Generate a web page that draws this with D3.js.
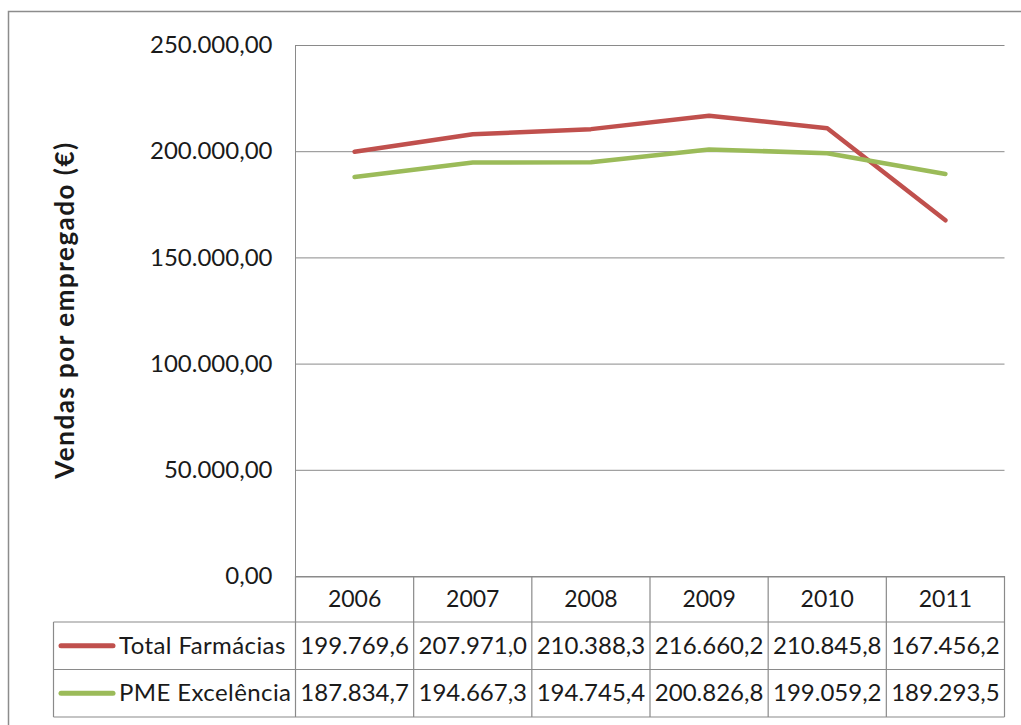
<!DOCTYPE html>
<html>
<head>
<meta charset="utf-8">
<script src="https://cdn.jsdelivr.net/npm/d3@7"></script>
<style>
  html, body { margin: 0; padding: 0; background: #fff; }
  svg { display: block; }
  text { font-family: Lato, "Open Sans", sans-serif; fill: #1a1a1a; }
</style>
</head>
<body>
<svg id="chart" width="1021" height="725"></svg>
<script>
// Sales per employee (€), 2006–2011
const years = ["2006", "2007", "2008", "2009", "2010", "2011"];
const seriesNames = ["Total Farmácias", "PME Excelência"];
const totalFarmacias = [199769.6, 207971.0, 210388.3, 216660.2, 210845.8, 167456.2];
const pmeExcelencia = [187834.7, 194667.3, 194745.4, 200826.8, 199059.2, 189293.5];
const seriesColors = ["#C0504D", "#9BBB59"];
const yTicks = [0, 50000, 100000, 150000, 200000, 250000];
const yTitle = "Vendas por empregado (€)";

const series = [
  { name: seriesNames[0], values: totalFarmacias, color: seriesColors[0] },
  { name: seriesNames[1], values: pmeExcelencia, color: seriesColors[1] }
];

const svg = d3.select("#chart");

// Layout
const plotLeft = 295.5, plotRight = 1004.5, plotTop = 45, plotBottom = 576;
const headerBottom = 622, rowH = 47.5, legendLeft = 53.5;

const x = d3.scaleBand().domain(years).range([plotLeft, plotRight]).padding(0);
const y = d3.scaleLinear().domain([0, 250000]).range([plotBottom, plotTop]);

// Pt-PT number formats
const locale = d3.formatLocale({ decimal: ",", thousands: ".", grouping: [3], currency: ["", "€"] });
const fmtAxis = locale.format(",.2f");
const fmtCell = locale.format(",.1f");

// Outer chart frame
svg.append("rect")
  .attr("x", 8.5).attr("y", 11.5)
  .attr("width", 1030).attr("height", 740)
  .attr("fill", "none").attr("stroke", "#8c8c8c").attr("stroke-width", 1.5);

// Horizontal gridlines + tick labels
const yAxis = d3.axisLeft(y)
  .tickValues(yTicks)
  .tickSize(-(plotRight - plotLeft))
  .tickPadding(23)
  .tickFormat(fmtAxis);

const gy = svg.append("g")
  .attr("transform", `translate(${plotLeft},0)`)
  .call(yAxis);
gy.select(".domain").remove();
gy.selectAll(".tick line").attr("stroke", "#8a8a8a").attr("stroke-width", 1);
gy.selectAll(".tick text")
  .attr("font-size", 24)
  .attr("font-family", "Lato, sans-serif")
  .attr("fill", "#1a1a1a");

// Vertical axis line
svg.append("line")
  .attr("x1", plotLeft).attr("x2", plotLeft)
  .attr("y1", plotTop).attr("y2", plotBottom)
  .attr("stroke", "#8a8a8a");

// Y axis title
svg.append("text")
  .attr("transform", `translate(74,310) rotate(-90)`)
  .attr("text-anchor", "middle")
  .attr("font-size", 26)
  .attr("letter-spacing", 1.5)
  .attr("font-weight", "bold")
  .text(yTitle);

// Series lines
const line = d3.line()
  .x((d, i) => x(years[i]) + x.bandwidth() / 2)
  .y(d => y(d));

svg.selectAll("path.series")
  .data(series)
  .join("path")
  .attr("class", "series")
  .attr("d", d => line(d.values))
  .attr("fill", "none")
  .attr("stroke", d => d.color)
  .attr("stroke-width", 4.5)
  .attr("stroke-linejoin", "round")
  .attr("stroke-linecap", "round");

// Data table
const grid = svg.append("g")
  .attr("stroke", "#8a8a8a").attr("stroke-width", 1.2);

const rowTops = [headerBottom, headerBottom + rowH, headerBottom + 2 * rowH];
// header top
grid.append("line").attr("x1", plotLeft).attr("x2", plotRight).attr("y1", plotBottom + 1).attr("y2", plotBottom + 1);
// row separators
rowTops.forEach(t => {
  grid.append("line").attr("x1", legendLeft).attr("x2", plotRight).attr("y1", t).attr("y2", t);
});
// column separators
const colEdges = years.map(yr => x(yr)).concat([plotRight]);
colEdges.forEach(cx => {
  grid.append("line").attr("x1", cx).attr("x2", cx).attr("y1", plotBottom).attr("y2", rowTops[2]);
});
grid.append("line").attr("x1", legendLeft).attr("x2", legendLeft).attr("y1", rowTops[0]).attr("y2", rowTops[2]);

// Year header labels
svg.selectAll("text.year")
  .data(years)
  .join("text")
  .attr("class", "year")
  .attr("x", d => x(d) + x.bandwidth() / 2)
  .attr("y", (plotBottom + headerBottom) / 2 + 8)
  .attr("text-anchor", "middle")
  .attr("font-size", 23)
  .text(d => d);

// Table rows: legend key + values
series.forEach((s, si) => {
  const cy = rowTops[si] + rowH / 2;
  svg.append("line")
    .attr("x1", 61).attr("x2", 113)
    .attr("y1", cy).attr("y2", cy)
    .attr("stroke", s.color).attr("stroke-width", 5)
    .attr("stroke-linecap", "round");
  svg.append("text")
    .attr("x", 119).attr("y", cy + 8)
    .attr("font-size", 24)
    .attr("letter-spacing", 0.4)
    .text(s.name);
  svg.selectAll(null)
    .data(s.values)
    .join("text")
    .attr("x", (d, i) => x(years[i]) + x.bandwidth() / 2)
    .attr("y", cy + 8)
    .attr("text-anchor", "middle")
    .attr("font-size", 24)
    .text(d => fmtCell(d));
});
</script>
</body>
</html>
